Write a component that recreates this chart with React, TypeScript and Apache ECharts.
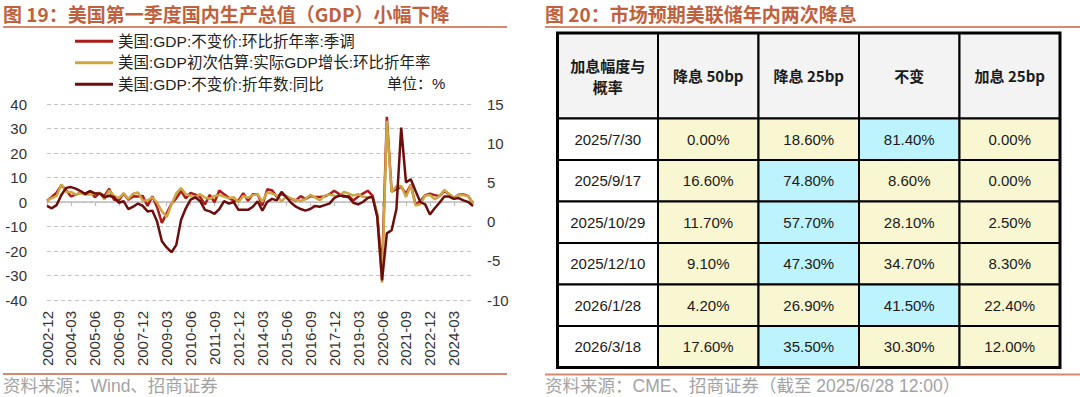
import React, { useEffect, useRef } from 'react';
import * as echarts from 'echarts';

// ---------- Left chart data (quarterly, 2002-12 .. 2025-03) ----------
const categories: string[] = ['2002-12'];
for (let y = 2003; y <= 2025; y++) {
  for (const m of ['03', '06', '09', '12']) {
    if (y === 2025 && m !== '03') break;
    categories.push(`${y}-${m}`);
  }
}

const seriesNames = [
  '美国:GDP:不变价:环比折年率:季调',
  '美国:GDP初次估算:实际GDP增长:环比折年率',
  '美国:GDP:不变价:折年数:同比',
];

// QoQ SAAR (final), left axis
const qoqSaar = [
  0.5,
  2.1, 3.8, 6.9, 4.8,
  2.3, 3.0, 3.7, 3.5,
  4.4, 1.9, 3.6, 2.5,
  5.4, 0.9, 0.6, 3.5,
  0.9, 2.3, 2.2, 2.5,
  -1.6, 2.3, -2.1, -8.5,
  -4.6, -0.7, 1.5, 4.5,
  1.5, 3.7, 3.0, 2.0,
  -1.0, 2.9, -0.1, 4.7,
  3.2, 1.7, 0.5, 0.5,
  3.6, 0.5, 3.2, 3.2,
  -1.4, 5.2, 4.8, 2.1,
  3.3, 2.3, 1.3, 0.6,
  2.4, 1.2, 2.4, 2.0,
  2.0, 2.3, 3.2, 4.6,
  3.3, 2.1, 2.5, 0.6,
  2.2, 3.4, 4.6, 2.6,
  -5.5, -28.0, 34.8, 4.2,
  5.2, 6.2, 3.3, 7.0,
  -1.0, 0.3, 2.7, 3.4,
  2.8, 2.4, 4.4, 3.2,
  1.6, 3.0, 3.1, 2.4,
  -0.5,
];

// Advance estimate QoQ SAAR, left axis
const advanceEst = [
  0.7,
  1.6, 2.4, 7.2, 4.0,
  4.2, 3.0, 3.7, 3.1,
  3.1, 3.4, 3.8, 1.1,
  4.8, 2.5, 1.6, 3.5,
  1.3, 3.4, 3.9, 0.6,
  0.6, 1.9, -0.3, -3.8,
  -6.1, -1.0, 3.5, 5.7,
  3.2, 2.4, 2.0, 3.2,
  1.8, 1.3, 2.5, 2.8,
  2.2, 1.5, 2.0, -0.1,
  2.5, 1.7, 2.8, 3.2,
  0.1, 4.0, 3.5, 2.6,
  0.2, 2.3, 1.5, 0.7,
  0.5, 1.2, 2.9, 1.9,
  0.7, 2.6, 3.0, 2.6,
  2.3, 4.1, 3.5, 2.6,
  3.2, 2.1, 1.9, 2.1,
  -4.8, -32.9, 33.1, 4.0,
  6.4, 6.5, 2.0, 6.9,
  -1.4, -0.9, 2.6, 2.9,
  1.1, 2.4, 4.9, 3.3,
  1.6, 2.8, 2.8, 2.3,
  -0.3,
];

// YoY, right axis
const yoy = [
  2.0,
  1.7, 2.1, 3.4, 4.3,
  4.4, 4.2, 3.9, 3.5,
  3.9, 3.6, 3.6, 3.1,
  3.3, 3.1, 2.4, 2.6,
  1.6, 1.9, 2.3, 2.0,
  1.3, 1.4, 0.0, -2.5,
  -3.3, -3.9, -3.0, 0.2,
  1.7, 2.8, 3.1, 2.6,
  1.5, 1.3, 1.0, 1.6,
  2.6, 2.3, 2.5, 1.5,
  1.5, 1.5, 1.9, 2.6,
  1.4, 2.5, 2.9, 2.7,
  3.8, 3.1, 2.4, 1.9,
  1.6, 1.4, 1.6, 2.0,
  1.9, 2.1, 2.3, 3.0,
  3.3, 3.3, 3.1, 2.4,
  2.2, 2.5, 3.0, 3.2,
  0.6, -7.5, -1.5, -1.1,
  1.6, 12.0, 5.0, 5.4,
  3.9, 2.5, 2.2, 0.9,
  1.7, 2.4, 3.2, 3.2,
  2.9, 3.0, 2.7, 2.5,
  2.0,
];

const leftTicks = { min: -40, max: 40, interval: 10 };
const rightTicks = { min: -10, max: 15, interval: 5 };

// ---------- Right table data ----------
const tableHeaders = ['加息幅度与\n概率', '降息 50bp', '降息 25bp', '不变', '加息 25bp'];
const meetingDates = ['2025/7/30', '2025/9/17', '2025/10/29', '2025/12/10', '2026/1/28', '2026/3/18'];
const probCut50 = [0.0, 16.6, 11.7, 9.1, 4.2, 17.6];
const probCut25 = [18.6, 74.8, 57.7, 47.3, 26.9, 35.5];
const probHold = [81.4, 8.6, 28.1, 34.7, 41.5, 30.3];
const probHike25 = [0.0, 0.0, 2.5, 8.3, 22.4, 12.0];

const COLORS = ['#AD1A1A', '#CDA543', '#6C0E0B'];
const FONT = '"Liberation Sans", Arial, "Noto Sans CJK SC", sans-serif';
const CJK_FONT = '"Noto Sans CJK SC", "Liberation Sans", sans-serif';
const TITLE_COLOR = '#C0613E';
const RULE_COLOR = '#D4896C';

export default function App() {
  const ref = useRef<HTMLDivElement>(null);

  useEffect(() => {
    if (!ref.current) return;
    const chart = echarts.init(ref.current, undefined, { renderer: 'svg' });

    const probCols = [probCut50, probCut25, probHold, probHike25];
    const bodyData: number[][] = [];
    meetingDates.forEach((_, r) => {
      for (let c = 0; c < 5; c++) bodyData.push([c, r, c === 0 ? 0 : probCols[c - 1][r]]);
    });
    const headerData = tableHeaders.map((_, c) => [c, 0, 0]);

    const rowMax = meetingDates.map((_, r) => Math.max(...probCols.map((col) => col[r])));

    const cell = (api: any, fill: string, text: string, bold: boolean, lh: number) => {
      const c = api.value(0);
      const r = api.value(1);
      const p = api.coord([c, r]);
      const s = api.size([1, 1]);
      return {
        type: 'group',
        children: [
          {
            type: 'rect',
            shape: { x: p[0] - s[0] / 2, y: p[1] - s[1] / 2, width: s[0], height: s[1] },
            style: { fill, stroke: '#000', lineWidth: 2 },
          },
          {
            type: 'text',
            style: {
              x: p[0],
              y: p[1],
              text,
              align: 'center',
              verticalAlign: 'middle',
              fontSize: 15,
              lineHeight: lh,
              fontWeight: bold ? 'bold' : 'normal',
              fontFamily: bold ? CJK_FONT : FONT,
              fill: '#1a1a1a',
            },
          },
        ],
      };
    };

    const option: any = {
      animation: false,
      backgroundColor: '#fff',
      textStyle: { fontFamily: FONT },
      legend: {
        data: seriesNames,
        orient: 'vertical',
        left: 75,
        top: 33.5,
        padding: 0,
        itemGap: 6,
        itemWidth: 38,
        itemHeight: 3,
        icon: 'rect',
        selectedMode: false,
        textStyle: { fontSize: 15.5, color: '#222', lineHeight: 15, fontFamily: FONT },
      },
      grid: [
        { left: 47, top: 104, width: 426, height: 196 },
        { left: 557.5, top: 33, width: 502.5, height: 85.5 },
        { left: 557.5, top: 118.5, width: 502.5, height: 249 },
      ],
      xAxis: [
        {
          gridIndex: 0,
          type: 'category',
          data: categories,
          boundaryGap: false,
          position: 'bottom',
          axisLine: { show: false, onZero: false },
          axisTick: { show: false },
          splitLine: { show: false },
          axisLabel: { rotate: 90, interval: 4, fontSize: 15, color: '#333', margin: 11, fontFamily: FONT },
        },
        {
          gridIndex: 0,
          type: 'category',
          data: categories,
          boundaryGap: false,
          position: 'bottom',
          axisLine: { show: true, onZero: true, onZeroAxisIndex: 0, lineStyle: { color: '#bdbdbd', width: 1.5 } },
          axisTick: { show: true, interval: 4, length: 4, lineStyle: { color: '#bdbdbd', width: 1.2 } },
          axisLabel: { show: false },
          splitLine: { show: false },
        },
        { gridIndex: 1, type: 'category', data: tableHeaders, show: false },
        { gridIndex: 2, type: 'category', data: tableHeaders, show: false },
      ],
      yAxis: [
        {
          gridIndex: 0,
          type: 'value',
          ...leftTicks,
          axisLine: { show: false },
          axisTick: { show: false },
          axisLabel: { fontSize: 15, color: '#333', margin: 20, fontFamily: FONT },
          splitLine: { show: true, lineStyle: { color: '#c4c4c4', width: 1.2, type: [4, 3] } },
        },
        {
          gridIndex: 0,
          type: 'value',
          position: 'right',
          ...rightTicks,
          axisLine: { show: false },
          axisTick: { show: false },
          axisLabel: { fontSize: 15, color: '#333', margin: 14, fontFamily: FONT },
          splitLine: { show: false },
        },
        { gridIndex: 1, type: 'category', data: ['h'], show: false },
        { gridIndex: 2, type: 'category', data: meetingDates, inverse: true, show: false },
      ],
      series: [
        {
          name: seriesNames[0],
          type: 'line',
          xAxisIndex: 0,
          yAxisIndex: 0,
          data: qoqSaar,
          symbol: 'none',
          showSymbol: false,
          lineStyle: { width: 2.5, color: COLORS[0] },
          itemStyle: { color: COLORS[0] },
        },
        {
          name: seriesNames[1],
          type: 'line',
          xAxisIndex: 0,
          yAxisIndex: 0,
          data: advanceEst,
          symbol: 'none',
          showSymbol: false,
          lineStyle: { width: 2.5, color: COLORS[1] },
          itemStyle: { color: COLORS[1] },
        },
        {
          name: seriesNames[2],
          type: 'line',
          xAxisIndex: 0,
          yAxisIndex: 1,
          data: yoy,
          symbol: 'none',
          showSymbol: false,
          lineStyle: { width: 2.5, color: COLORS[2] },
          itemStyle: { color: COLORS[2] },
        },
        {
          type: 'custom',
          xAxisIndex: 2,
          yAxisIndex: 2,
          data: headerData,
          renderItem: (_p: any, api: any) => cell(api, '#f3f3f3', tableHeaders[api.value(0)], true, 21),
        },
        {
          type: 'custom',
          xAxisIndex: 3,
          yAxisIndex: 3,
          data: bodyData,
          renderItem: (_p: any, api: any) => {
            const c = api.value(0);
            const r = api.value(1);
            if (c === 0) return cell(api, '#ffffff', meetingDates[r], false, 15);
            const v = probCols[c - 1][r];
            const fill = v === rowMax[r] ? '#BDF3FC' : '#F8F7D2';
            return cell(api, fill, `${v.toFixed(2)}%`, false, 15);
          },
        },
      ],
      graphic: [
        {
          type: 'text',
          left: 3,
          top: 4,
          style: { text: '图 19：美国第一季度国内生产总值（GDP）小幅下降', fontSize: 19, fontWeight: 'bold', fontFamily: CJK_FONT, fill: TITLE_COLOR },
        },
        {
          type: 'text',
          left: 545,
          top: 4,
          style: { text: '图 20：市场预期美联储年内两次降息', fontSize: 19, fontWeight: 'bold', fontFamily: CJK_FONT, fill: TITLE_COLOR },
        },
        { type: 'line', shape: { x1: 3, y1: 27, x2: 507, y2: 27 }, style: { stroke: RULE_COLOR, lineWidth: 2 } },
        { type: 'line', shape: { x1: 545, y1: 27, x2: 1080, y2: 27 }, style: { stroke: RULE_COLOR, lineWidth: 2 } },
        { type: 'line', shape: { x1: 3, y1: 374, x2: 507, y2: 374 }, style: { stroke: RULE_COLOR, lineWidth: 2 } },
        { type: 'line', shape: { x1: 545, y1: 374.5, x2: 1080, y2: 374.5 }, style: { stroke: RULE_COLOR, lineWidth: 2 } },
        {
          type: 'text',
          left: 387,
          top: 75.5,
          style: { text: '单位：%', fontSize: 15, fontFamily: FONT, fill: '#222' },
        },
        {
          type: 'text',
          left: 3,
          top: 377.5,
          style: { text: '资料来源：Wind、招商证券', fontSize: 17.5, fontFamily: FONT, fill: '#a3a3a3' },
        },
        {
          type: 'text',
          left: 545,
          top: 377.5,
          style: { text: '资料来源：CME、招商证券（截至 2025/6/28 12:00）', fontSize: 17.5, fontFamily: FONT, fill: '#a3a3a3' },
        },
        {
          type: 'rect',
          z: 50,
          shape: { x: 557.5, y: 33, width: 502.5, height: 334.5 },
          style: { fill: 'none', stroke: '#000', lineWidth: 3 },
        },
      ],
    };

    chart.setOption(option);
    return () => chart.dispose();
  }, []);

  return (
    <div
      ref={ref}
      style={{ position: 'fixed', left: 0, top: 0, width: 1080, height: 397, background: '#fff' }}
    />
  );
}
